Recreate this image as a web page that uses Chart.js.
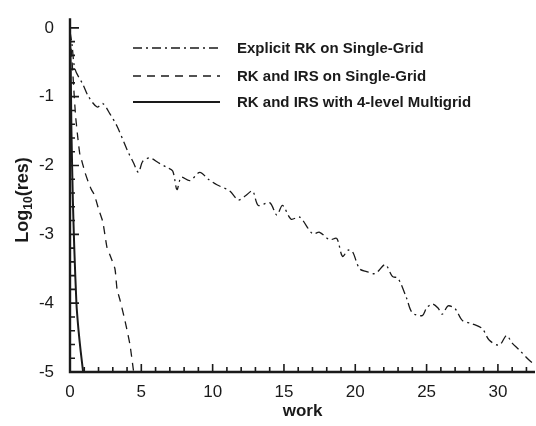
<!DOCTYPE html>
<html>
<head>
<meta charset="utf-8">
<script src="https://cdn.jsdelivr.net/npm/chart.js@4"></script>
<style>
  html, body { margin: 0; padding: 0; background: #fff; }
  #wrap { width: 536px; height: 426px; }
</style>
</head>
<body>
<div id="wrap"><canvas id="myChart"></canvas></div>
<script>
// series names
const seriesNames = ["Explicit RK on Single-Grid", "RK and IRS on Single-Grid", "RK and IRS with 4-level Multigrid"];

// explicit RK (dash-dot)
const rkWork = [0, 0.14, 0.35, 0.9, 1.3, 1.9, 2.3, 2.8, 3.3, 4.0, 4.45, 4.8, 5.1, 5.6, 6.2, 6.8, 7.2, 7.5, 7.8, 8.4, 9.1, 9.7, 10.3, 11.2, 11.8, 12.3, 12.8, 13.2, 14.0, 14.5, 14.9, 15.5, 16.1, 17.0, 17.5, 18.2, 18.7, 19.1, 19.5, 19.8, 20.3, 20.8, 21.4, 22.1, 22.6, 23.0, 23.6, 24.0, 24.7, 25.0, 25.4, 25.8, 26.1, 26.5, 27.0, 27.5, 28.2, 28.9, 29.4, 30.1, 30.6, 31.0, 31.5, 32.2, 32.6];
const rkRes  = [-0.05, -0.24, -0.6, -0.82, -1.0, -1.15, -1.1, -1.25, -1.43, -1.77, -1.96, -2.1, -1.94, -1.89, -1.96, -2.03, -2.08, -2.35, -2.17, -2.22, -2.1, -2.2, -2.28, -2.37, -2.5, -2.44, -2.37, -2.58, -2.54, -2.72, -2.58, -2.78, -2.75, -2.99, -2.97, -3.08, -3.06, -3.32, -3.23, -3.25, -3.5, -3.54, -3.57, -3.44, -3.61, -3.64, -3.93, -4.14, -4.18, -4.07, -4.01, -4.07, -4.16, -4.04, -4.08, -4.25, -4.3, -4.37, -4.54, -4.61, -4.47, -4.58, -4.68, -4.83, -4.9];

// RK + IRS single grid (dashed)
const irsWork = [0, 0.15, 0.3, 0.4, 0.55, 0.7, 0.85, 1.05, 1.3, 1.5, 1.7, 2.0, 2.3, 2.6, 2.8, 3.15, 3.3, 3.5, 3.85, 4.2, 4.45];
const irsRes  = [-0.1, -0.5, -1.0, -1.3, -1.6, -1.85, -1.95, -2.1, -2.25, -2.35, -2.42, -2.63, -2.82, -3.2, -3.3, -3.5, -3.8, -3.95, -4.25, -4.6, -4.98];

// RK + IRS 4-level multigrid (solid)
const mgWork = [0, 0.05, 0.1, 0.2, 0.3, 0.45, 0.6, 0.75, 0.92];
const mgRes  = [-0.1, -0.6, -1.5, -2.5, -3.2, -4.0, -4.4, -4.7, -5.0];

const xTicks = [0, 5, 10, 15, 20, 25, 30];
const yTicks = [-5, -4, -3, -2, -1, 0];

function pts(xs, ys) { return xs.map((x, i) => ({x: x, y: ys[i]})); }

const dashes = [[9, 4, 2, 4], [8, 6], []];

const axisTicks = {
  id: 'axisTicks',
  afterDraw(chart) {
    const ctx = chart.ctx, a = chart.chartArea;
    const xs = chart.scales.x, ys = chart.scales.y;
    ctx.save();
    ctx.strokeStyle = '#1a1a1a';
    ctx.lineWidth = 1.6;
    ctx.beginPath();
    for (let v = 0; v <= 32; v++) {
      const px = xs.getPixelForValue(v);
      const len = v % 5 === 0 ? 8 : 5;
      ctx.moveTo(px, a.bottom); ctx.lineTo(px, a.bottom - len);
    }
    for (let v = -5; v <= 0.001; v += 0.2) {
      const py = ys.getPixelForValue(v);
      const r = Math.round(v * 10);
      const len = r % 10 === 0 ? 9 : 5;
      ctx.moveTo(a.left, py); ctx.lineTo(a.left + len, py);
    }
    ctx.stroke();
    // axis lines
    ctx.lineWidth = 2.4;
    ctx.beginPath();
    ctx.moveTo(a.left, a.top); ctx.lineTo(a.left, a.bottom);
    ctx.lineTo(a.right, a.bottom);
    ctx.stroke();

    // legend
    const rows = [48, 76, 102];
    ctx.font = 'bold 15px "Liberation Sans", Arial, sans-serif';
    ctx.fillStyle = '#1a1a1a';
    ctx.textBaseline = 'middle';
    rows.forEach((y, i) => {
      ctx.beginPath();
      ctx.lineWidth = i === 2 ? 2 : 1.3;
      ctx.setLineDash(dashes[i]);
      ctx.moveTo(133, y); ctx.lineTo(220, y);
      ctx.stroke();
      ctx.setLineDash([]);
      ctx.fillText(seriesNames[i], 237, y + 1);
    });

    // y title with subscript
    ctx.translate(22, 200);
    ctx.rotate(-Math.PI / 2);
    ctx.textBaseline = 'alphabetic';
    const big = 'bold 18px "Liberation Sans", Arial, sans-serif';
    const small = 'bold 12px "Liberation Sans", Arial, sans-serif';
    ctx.font = big; const w1 = ctx.measureText('Log').width; const w3 = ctx.measureText('(res)').width;
    ctx.font = small; const w2 = ctx.measureText('10').width;
    let x0 = -(w1 + w2 + w3) / 2;
    ctx.font = big; ctx.fillText('Log', x0, 6);
    ctx.font = small; ctx.fillText('10', x0 + w1, 10);
    ctx.font = big; ctx.fillText('(res)', x0 + w1 + w2, 6);
    ctx.restore();
  }
};

const config = {
  type: 'scatter',
  data: {
    datasets: [
      { label: seriesNames[0], data: pts(rkWork, rkRes), showLine: true, borderColor: '#1a1a1a', borderWidth: 1.3, borderDash: dashes[0], pointRadius: 0, tension: 0.3 },
      { label: seriesNames[1], data: pts(irsWork, irsRes), showLine: true, borderColor: '#1a1a1a', borderWidth: 1.3, borderDash: dashes[1], pointRadius: 0, tension: 0.2 },
      { label: seriesNames[2], data: pts(mgWork, mgRes), showLine: true, borderColor: '#1a1a1a', borderWidth: 2, pointRadius: 0, tension: 0.2 }
    ]
  },
  options: {
    responsive: true,
    maintainAspectRatio: false,
    animation: false,
    layout: { padding: { top: 13, right: 1, left: 0, bottom: 0 } },
    plugins: { legend: { display: false }, tooltip: { enabled: false } },
    scales: {
      x: {
        type: 'linear', min: 0, max: 32.6,
        grid: { display: false },
        border: { display: false },
        afterBuildTicks: s => { s.ticks = xTicks.map(v => ({value: v})); },
        afterFit: s => { s.height = 54; },
        ticks: { color: '#1a1a1a', padding: 2, maxRotation: 0, font: { size: 17, family: '"Liberation Sans", Arial, sans-serif' } },
        title: { display: true, text: 'work', color: '#1a1a1a', padding: { top: 0 }, font: { size: 17, weight: 'bold', family: '"Liberation Sans", Arial, sans-serif' } }
      },
      y: {
        type: 'linear', min: -5, max: 0.14,
        grid: { display: false },
        border: { display: false },
        afterBuildTicks: s => { s.ticks = yTicks.map(v => ({value: v})); },
        afterFit: s => { s.width = 70; },
        ticks: { color: '#1a1a1a', padding: 8, font: { size: 17, family: '"Liberation Sans", Arial, sans-serif' } }
      }
    }
  },
  plugins: [axisTicks]
};

new Chart(document.getElementById('myChart'), config);
</script>
</body>
</html>
